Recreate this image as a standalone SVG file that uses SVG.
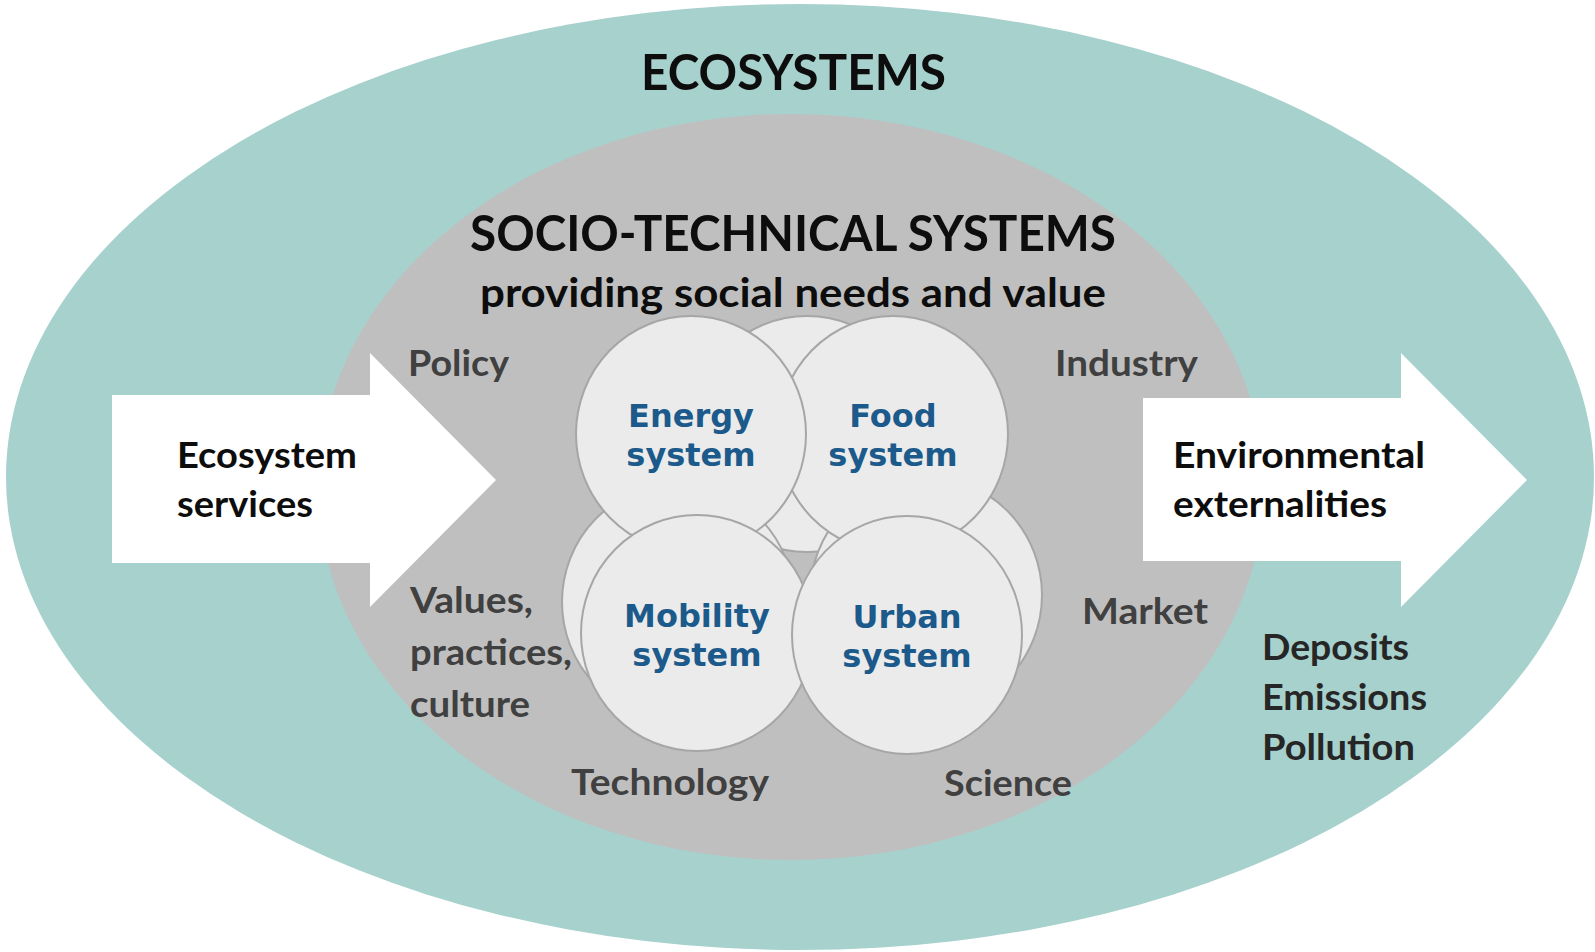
<svg xmlns="http://www.w3.org/2000/svg" width="1595" height="952" viewBox="0 0 1595 952">
<style>
.lbl{font-family:Lato,"Open Sans","Liberation Sans",sans-serif;font-weight:700;}
.big{font-size:50px;fill:#0D0D0D;}
.sub{font-size:41px;fill:#0D0D0D;}
.gray{font-size:36px;fill:#404040;}
.blk{font-size:36px;fill:#0D0D0D;}
.dk{font-size:36px;fill:#262626;}
.sys{font-family:"DejaVu Sans",Verdana,sans-serif;font-weight:700;font-size:32px;fill:#1B5A8A;text-anchor:middle;}
.circ{fill:#EBEBEB;stroke:#A6A6A6;stroke-width:2;}
.arrow{fill:#FFFFFF;}
</style>
<rect width="1595" height="952" fill="#FFFFFF"/>
<g id="ecosystems">
<ellipse cx="800" cy="477" rx="794" ry="473" fill="#A7D1CD"/>
<text class="lbl big" x="641" y="90" textLength="305" lengthAdjust="spacingAndGlyphs">ECOSYSTEMS</text>
</g>
<g id="socio-technical-systems">
<ellipse cx="791" cy="487" rx="473" ry="373" fill="#BFBFBF"/>
<text class="lbl big" x="470" y="251" font-size="52" textLength="646" lengthAdjust="spacingAndGlyphs">SOCIO-TECHNICAL SYSTEMS</text>
<text class="lbl sub" x="480" y="307" textLength="626" lengthAdjust="spacingAndGlyphs">providing social needs and value</text>
</g>
<g id="ecosystem-services">
<polygon class="arrow" points="112,395 370,395 370,353 496,480 370,607 370,563 112,563"/>
<text class="lbl blk" x="177" y="468" textLength="180" lengthAdjust="spacingAndGlyphs">Ecosystem</text>
<text class="lbl blk" x="177" y="517" textLength="136" lengthAdjust="spacingAndGlyphs">services</text>
</g>
<g id="environmental-externalities">
<polygon class="arrow" points="1143,398 1401,398 1401,353 1527,480 1401,607 1401,561 1143,561"/>
<text class="lbl blk" x="1173" y="468" textLength="252" lengthAdjust="spacingAndGlyphs">Environmental</text>
<text class="lbl blk" x="1173" y="517" textLength="214" lengthAdjust="spacingAndGlyphs">externalities</text>
</g>
<g id="externalities-list">
<text class="lbl dk" x="1262" y="660" textLength="147" lengthAdjust="spacingAndGlyphs">Deposits</text>
<text class="lbl dk" x="1262" y="710" textLength="165" lengthAdjust="spacingAndGlyphs">Emissions</text>
<text class="lbl dk" x="1262" y="760" textLength="153" lengthAdjust="spacingAndGlyphs">Pollution</text>
</g>
<g id="factors">
<text class="lbl gray" x="408" y="376" textLength="101" lengthAdjust="spacingAndGlyphs">Policy</text>
<text class="lbl gray" x="1055" y="376" textLength="143" lengthAdjust="spacingAndGlyphs">Industry</text>
<text class="lbl gray" x="410" y="613" textLength="123" lengthAdjust="spacingAndGlyphs">Values,</text>
<text class="lbl gray" x="410" y="665" textLength="162" lengthAdjust="spacingAndGlyphs">practices,</text>
<text class="lbl gray" x="410" y="717" textLength="120" lengthAdjust="spacingAndGlyphs">culture</text>
<text class="lbl gray" x="1082" y="624" textLength="126" lengthAdjust="spacingAndGlyphs">Market</text>
<text class="lbl gray" x="571" y="795" textLength="198" lengthAdjust="spacingAndGlyphs">Technology</text>
<text class="lbl gray" x="944" y="796" textLength="128" lengthAdjust="spacingAndGlyphs">Science</text>
</g>
<g id="back-top-circle"><ellipse class="circ" cx="807" cy="434" rx="116" ry="118"/></g>
<g id="back-left-circle"><ellipse class="circ" cx="678" cy="602" rx="116" ry="118"/></g>
<g id="back-right-circle"><ellipse class="circ" cx="926" cy="595" rx="116" ry="118"/></g>
<g id="food-system">
<ellipse class="circ" cx="893" cy="434" rx="115" ry="118"/>
<text class="sys" x="893" y="427">Food</text>
<text class="sys" x="893" y="466">system</text>
</g>
<g id="energy-system">
<ellipse class="circ" cx="691" cy="434" rx="115" ry="118"/>
<text class="sys" x="691" y="427">Energy</text>
<text class="sys" x="691" y="466">system</text>
</g>
<g id="mobility-system">
<ellipse class="circ" cx="697" cy="633" rx="116" ry="118"/>
<text class="sys" x="697" y="627">Mobility</text>
<text class="sys" x="697" y="666">system</text>
</g>
<g id="urban-system">
<ellipse class="circ" cx="907" cy="635" rx="115" ry="119"/>
<text class="sys" x="907" y="628">Urban</text>
<text class="sys" x="907" y="667">system</text>
</g>
<g id="connectors"></g>
</svg>
